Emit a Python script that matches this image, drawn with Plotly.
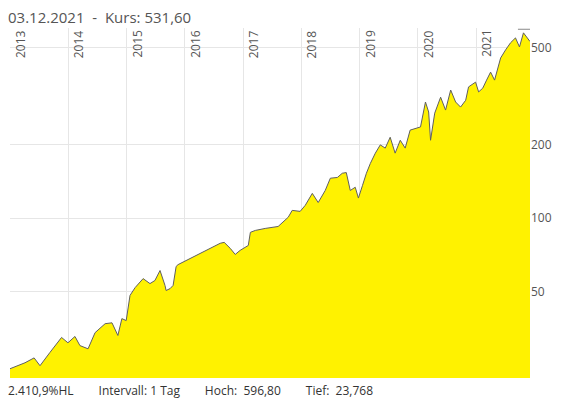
import plotly.graph_objects as go

# price series (log scale)
dates = [
    "2013-01-01", "2013-04-05", "2013-06-01", "2013-07-08", "2013-09-08", "2013-10-10",
    "2013-11-20", "2013-12-30", "2014-02-12", "2014-03-15", "2014-05-05", "2014-06-18",
    "2014-08-20", "2014-10-02", "2014-11-08", "2014-12-03", "2014-12-30", "2015-01-23",
    "2015-02-24", "2015-04-15", "2015-05-28", "2015-06-28", "2015-07-30", "2015-08-30",
    "2015-09-06", "2015-10-01", "2015-10-20", "2015-11-08", "2015-11-20",
    "2016-08-10", "2016-09-04", "2016-10-12", "2016-11-12", "2016-12-13",
    "2017-02-02", "2017-02-15", "2017-03-18", "2017-05-19", "2017-06-19", "2017-08-08",
    "2017-10-10", "2017-11-04", "2017-12-24", "2018-01-25", "2018-03-10", "2018-04-16",
    "2018-05-30", "2018-07-01", "2018-08-14", "2018-09-14", "2018-10-09", "2018-11-03",
    "2018-12-04", "2018-12-24", "2019-01-18", "2019-02-12", "2019-03-09", "2019-04-09",
    "2019-05-10", "2019-06-10", "2019-07-11", "2019-08-11", "2019-09-12", "2019-10-13",
    "2019-11-13", "2019-12-14", "2020-01-17", "2020-02-17", "2020-03-08", "2020-03-20",
    "2020-04-15", "2020-05-22", "2020-06-22", "2020-07-24", "2020-08-24", "2020-09-24",
    "2020-10-26", "2020-11-13", "2020-12-27", "2021-01-15", "2021-02-10", "2021-03-06",
    "2021-03-31", "2021-04-25", "2021-06-02", "2021-07-03", "2021-08-03", "2021-09-03",
    "2021-09-28", "2021-10-23", "2021-11-11", "2021-12-03",
]
prices = [
    24.1, 25.5, 26.7, 24.8, 28.1, 30.0,
    32.4, 30.8, 32.7, 30.0, 29.1, 33.9,
    36.9, 37.2, 33.0, 38.7, 38.0, 48.2,
    51.9, 56.5, 53.9, 55.5, 61.0, 53.0,
    50.5, 51.4, 53.0, 63.4, 64.5,
    78.9, 79.6, 75.2, 71.0, 73.8,
    77.3, 87.5, 89.1, 90.8, 91.6, 92.5,
    100.9, 107.7, 106.7, 113, 126.5, 116,
    130, 146, 147, 153, 154, 130,
    134, 121, 136, 153, 168, 185,
    200, 194, 215, 185, 209, 194,
    230, 234, 237, 300, 273, 209,
    270, 314, 278, 336, 300, 286,
    305, 346, 362, 330, 342, 369,
    398, 369, 455, 491, 525, 550,
    505, 577, 555, 531.6,
]
high_date = "2021-10-28"
high_value = 596.8

years = list(range(2013, 2022))
y_ticks = [50, 100, 200, 500]

fig = go.Figure()
fig.add_trace(go.Scatter(
    x=dates, y=prices, mode="lines", fill="tozeroy",
    fillcolor="#fff200", line=dict(color="#5f5f5f", width=1),
    hoverinfo="skip", showlegend=False,
))
fig.add_trace(go.Scatter(
    x=[high_date], y=[high_value], mode="markers",
    marker=dict(symbol="line-ew-open", size=9, color="#888888", line=dict(width=1)),
    hoverinfo="skip", showlegend=False,
))

for yr in years:
    fig.add_annotation(
        x=f"{yr}-01-01", y=1, xref="x", yref="paper", text=str(yr),
        textangle=-90, showarrow=False, xanchor="center", yanchor="top",
        xshift=10, yshift=0, font=dict(size=12, color="#555555"),
    )

fig.add_annotation(
    x=0, y=1, xref="paper", yref="paper", xshift=-4, yshift=-1,
    text="03.12.2021  -  Kurs: 531,60", showarrow=False,
    xanchor="left", yanchor="bottom", font=dict(size=15, color="#555555"),
)
fig.add_annotation(
    x=0, y=0, xref="paper", yref="paper", xshift=-4, yshift=-2,
    text="2.410,9%HL        Intervall: 1 Tag        Hoch:  596,80        Tief:  23,768",
    showarrow=False, xanchor="left", yanchor="top",
    font=dict(size=12, color="#333333"),
)

fig.update_layout(
    width=554, height=393,
    margin=dict(l=2, r=32, t=20, b=23),
    paper_bgcolor="white", plot_bgcolor="white",
    font=dict(family="Open Sans", color="#555555"),
    xaxis=dict(
        range=["2013-01-01", "2021-12-03"],
        tickvals=[f"{y}-01-01" for y in years], showticklabels=False,
        showgrid=True, gridcolor="#e6e6e6", zeroline=False,
        showline=False,
    ),
    yaxis=dict(
        type="log", range=[1.344, 2.781], side="right",
        tickvals=y_ticks, ticktext=[str(v) for v in y_ticks],
        showgrid=True, gridcolor="#e6e6e6", zeroline=False,
        tickfont=dict(size=12, color="#555555"),
    ),
)

fig.write_html("out.html")
